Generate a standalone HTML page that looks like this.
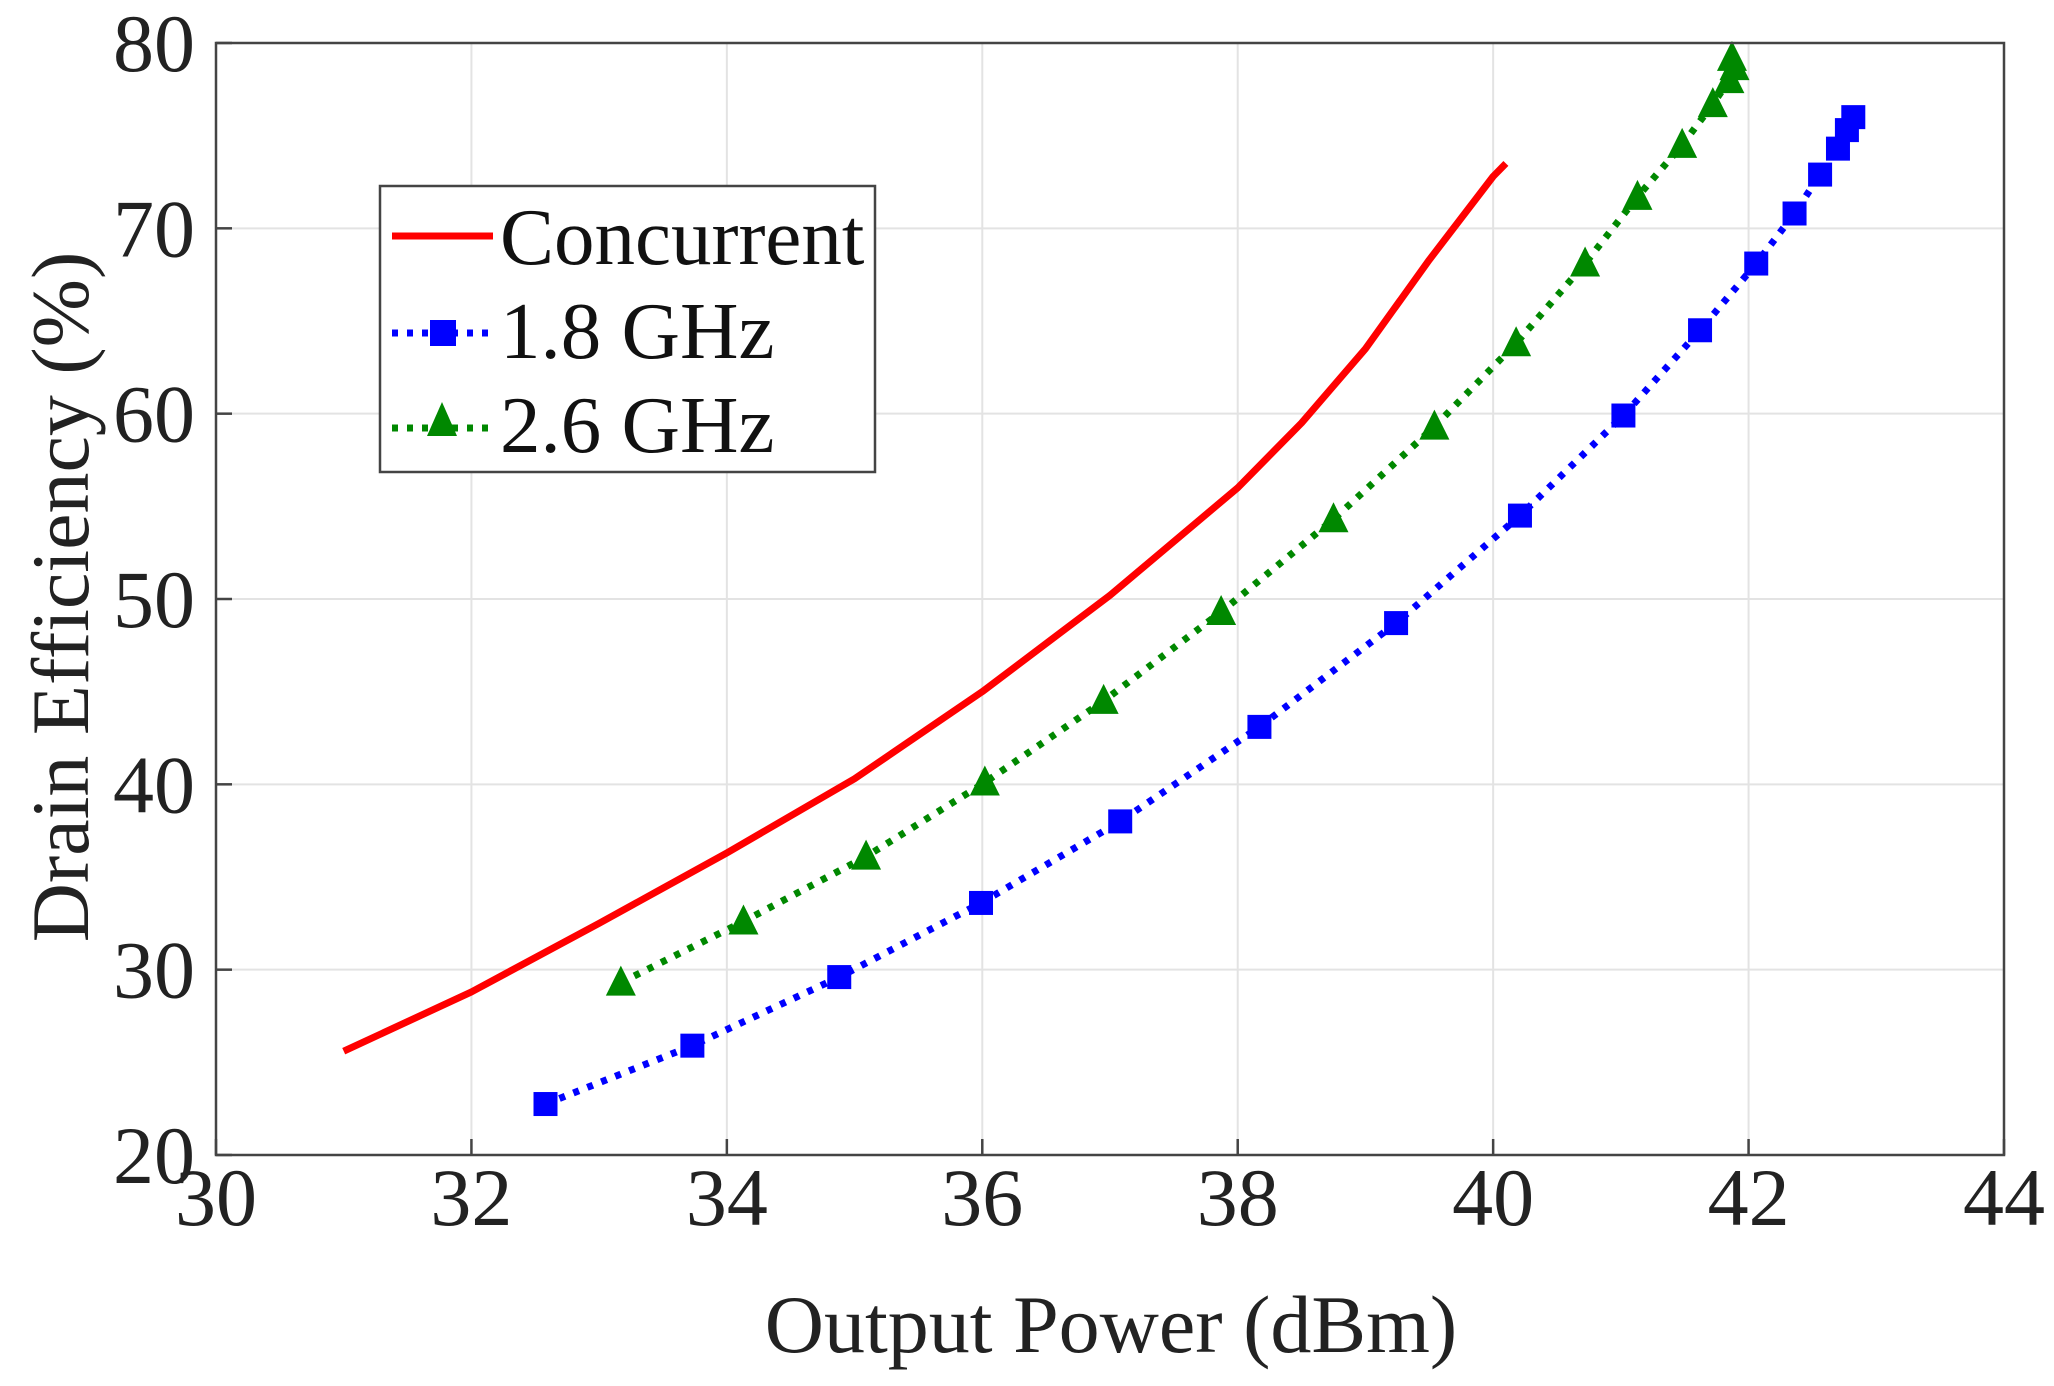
<!DOCTYPE html>
<html><head><meta charset="utf-8"><style>
html,body{margin:0;padding:0;background:#fff;}
svg{display:block;font-family:"Liberation Serif",serif;}
</style></head><body>
<svg id="chart" width="2054" height="1386" viewBox="0 0 2054 1386" xmlns="http://www.w3.org/2000/svg">
<g id="grid"></g>
<g id="series"></g>
<rect x="216" y="43" width="1788" height="1112" fill="none" stroke="#444" stroke-width="2.5"/>
<g id="ticks"></g>
<text x="1111" y="1352" font-size="82" text-anchor="middle" fill="#222">Output Power (dBm)</text>
<text transform="translate(88,597) rotate(-90)" font-size="82" text-anchor="middle" fill="#222">Drain Efficiency (%)</text>
<g>
<rect x="380" y="186" width="495" height="286" fill="#fff" stroke="#444" stroke-width="2.5"/>
<line x1="392" y1="236" x2="493" y2="236" stroke="#f00" stroke-width="7"/>
<text x="500" y="264" font-size="81" fill="#111">Concurrent</text>
<line x1="392" y1="333" x2="493" y2="333" stroke="#00f" stroke-width="7" stroke-dasharray="6 9"/>
<rect x="430" y="320" width="26" height="26" fill="#00f"/>
<text x="500" y="358" font-size="81" fill="#111">1.8 GHz</text>
<line x1="392" y1="428" x2="493" y2="428" stroke="#080" stroke-width="7" stroke-dasharray="6 9"/>
<polygon points="442,402 457,436 427,436" fill="#080"/>
<text x="500" y="452" font-size="81" fill="#111">2.6 GHz</text>
</g>
</svg>
<script>
const xTicks = [30,32,34,36,38,40,42,44];
const yTicks = [20,30,40,50,60,70,80];
const concX = [31,32,33,34,35,36,37,38,38.5,39,39.5,40,40.1];
const concY = [25.6,28.8,32.5,36.3,40.3,45.0,50.2,56.0,59.5,63.5,68.3,72.8,73.5];
const g18X = [32.58,33.73,34.88,35.99,37.08,38.17,39.24,40.21,41.02,41.62,42.06,42.36,42.56,42.70,42.77,42.82];
const g18Y = [22.75,25.9,29.6,33.6,38.0,43.1,48.7,54.5,59.9,64.5,68.1,70.8,72.9,74.3,75.3,76.0];
const g26X = [33.17,34.13,35.09,36.02,36.95,37.87,38.75,39.54,40.18,40.72,41.13,41.48,41.72,41.85,41.89,41.87];
const g26Y = [29.3,32.6,36.1,40.1,44.5,49.3,54.3,59.3,63.8,68.1,71.7,74.5,76.7,78.0,78.7,79.2];

const L=216,R=2004,T=43,B=1155;
const sx=v=>L+(v-30)/(44-30)*(R-L);
const sy=v=>B-(v-20)/(80-20)*(B-T);
const NS="http://www.w3.org/2000/svg";
function mk(tag,parent,attrs){const e=document.createElementNS(NS,tag);for(const k in attrs)e.setAttribute(k,attrs[k]);parent.appendChild(e);return e;}
const grid=document.getElementById('grid'),ticks=document.getElementById('ticks'),ser=document.getElementById('series');
xTicks.forEach(v=>{
  const gl=mk('line',grid,{x1:sx(v),x2:sx(v),y1:T,y2:B,stroke:'#e3e3e3','stroke-width':2});
  
  
  const tk=mk('line',ticks,{x1:sx(v),x2:sx(v),y1:B,y2:B-16,stroke:'#444','stroke-width':2.5});
  
  
  const t=mk('text',ticks,{x:sx(v),y:1225,'font-size':82,'text-anchor':'middle',fill:'#222'});
  t.textContent=v;
  
  
});
yTicks.forEach(v=>{
  const gl=mk('line',grid,{x1:L,x2:R,y1:sy(v),y2:sy(v),stroke:'#e3e3e3','stroke-width':2});
  
  
  const tk=mk('line',ticks,{x1:L,x2:L+16,y1:sy(v),y2:sy(v),stroke:'#444','stroke-width':2.5});
  
  
  const t=mk('text',ticks,{x:195,y:sy(v)+28,'font-size':82,'text-anchor':'end',fill:'#222'});
  t.textContent=v;
  
  
});
function pts(X,Y){return X.map((x,i)=>sx(x)+','+sy(Y[i])).join(' ');}
const c=mk('polyline',ser,{points:pts(concX,concY),fill:'none',stroke:'#f00','stroke-width':7,'stroke-linejoin':'round'});


const b=mk('polyline',ser,{points:pts(g18X,g18Y),fill:'none',stroke:'#00f','stroke-width':7,'stroke-dasharray':'6 9'});


const gr=mk('polyline',ser,{points:pts(g26X,g26Y),fill:'none',stroke:'#080','stroke-width':7,'stroke-dasharray':'6 9'});


g18X.forEach((x,i)=>{
  const r=mk('rect',ser,{x:sx(x)-12,y:sy(g18Y[i])-12,width:24,height:24,fill:'#00f'});
  
  
});
g26X.forEach((x,i)=>{
  const X=sx(x),Y=sy(g26Y[i]);
  const p=mk('polygon',ser,{points:`${X},${Y-17} ${X+15},${Y+13} ${X-15},${Y+13}`,fill:'#080'});
  
  
});
</script>
</body></html>
